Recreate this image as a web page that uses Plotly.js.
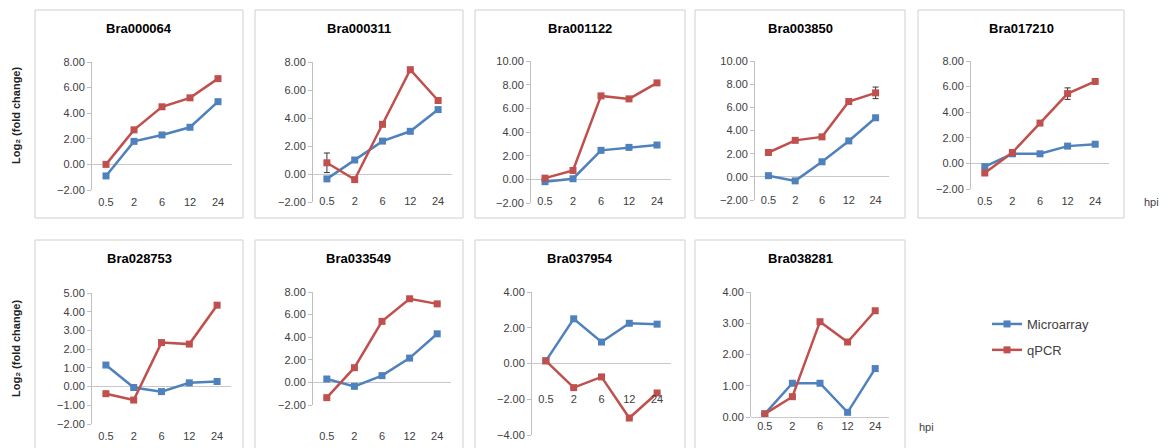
<!DOCTYPE html>
<html><head><meta charset="utf-8">
<script src="https://cdn.plot.ly/plotly-3.0.1.min.js"></script>
<style>html,body{margin:0;padding:0;background:#fff;}#chart{width:1173px;height:448px;}</style>
</head><body><div id="chart"></div>
<script>
// ---- data ----
const categories = ['0.5', '2', '6', '12', '24'];
const genes = ['Bra000064','Bra000311','Bra001122','Bra003850','Bra017210','Bra028753','Bra033549','Bra037954','Bra038281'];
const seriesNames = ['Microarray', 'qPCR'];

const micBra000064 = [-0.9, 1.8, 2.3, 2.9, 4.9];
const qpcBra000064 = [0.0, 2.7, 4.5, 5.2, 6.7];
const micBra000311 = [-0.35, 1.0, 2.35, 3.05, 4.6];
const qpcBra000311 = [0.8, -0.4, 3.55, 7.45, 5.25];
const micBra001122 = [-0.2, 0.05, 2.45, 2.7, 2.9];
const qpcBra001122 = [0.1, 0.75, 7.05, 6.8, 8.15];
const micBra003850 = [0.1, -0.35, 1.3, 3.1, 5.1];
const qpcBra003850 = [2.1, 3.15, 3.45, 6.5, 7.25];
const micBra017210 = [-0.25, 0.75, 0.75, 1.35, 1.5];
const qpcBra017210 = [-0.75, 0.85, 3.15, 5.45, 6.4];
const micBra028753 = [1.15, -0.05, -0.27, 0.2, 0.27];
const qpcBra028753 = [-0.38, -0.72, 2.35, 2.27, 4.35];
const micBra033549 = [0.3, -0.35, 0.6, 2.15, 4.3];
const qpcBra033549 = [-1.35, 1.3, 5.4, 7.4, 6.95];
const micBra037954 = [0.15, 2.5, 1.2, 2.25, 2.2];
const qpcBra037954 = [0.15, -1.35, -0.75, -3.05, -1.65];
const micBra038281 = [0.1, 1.08, 1.08, 0.15, 1.55];
const qpcBra038281 = [0.1, 0.65, 3.05, 2.4, 3.4];

const errBra000311 = [0.7, 0, 0, 0, 0];
const errBra003850 = [0, 0, 0, 0, 0.5];
const errBra017210 = [0, 0, 0, 0.45, 0];
const errNone = [0, 0, 0, 0, 0];

const yRanges = [[-2,8],[-2,8],[-2,10],[-2,10],[-2,8],[-2,5],[-2,8],[-4,4],[0,4]];
const yDticks = [2,2,2,2,2,1,2,2,1];

// ---- layout geometry (pixels) ----
const W = 1173, H = 448;
const mics = [micBra000064,micBra000311,micBra001122,micBra003850,micBra017210,micBra028753,micBra033549,micBra037954,micBra038281];
const qpcs = [qpcBra000064,qpcBra000311,qpcBra001122,qpcBra003850,qpcBra017210,qpcBra028753,qpcBra033549,qpcBra037954,qpcBra038281];
const errs = [errNone,errBra000311,errNone,errBra003850,errBra017210,errNone,errNone,errNone,errNone];

// box [x0,y0,x1,y1], plot [xl,xr,yTop,yBottom], label y (center)
const geo = [
  {box:[35,10,243,218],  plot:[92,232,62,190],   lab:203},
  {box:[255,10,463,218], plot:[313,452,62,202],  lab:202},
  {box:[475,10,685,218], plot:[531,671,61,203],  lab:202},
  {box:[695,10,905,218], plot:[755,889,61,200],  lab:201},
  {box:[918,10,1124,218],plot:[971,1109,61,189], lab:202},
  {box:[35,240,243,470], plot:[92,231,293,424],  lab:437},
  {box:[255,240,463,470],plot:[313,451,292,405], lab:437},
  {box:[475,240,685,470],plot:[532,671,292,435], lab:400},
  {box:[695,240,905,470],plot:[751,889,292,417], lab:427}
];

const blue = '#4F81BD', red = '#C0504D';
const tickFont = {family:'Arial, "Liberation Sans", sans-serif', size:11, color:'#404040'};

const traces = [];
const layout = {
  width: W, height: H,
  margin: {l:0, r:0, t:0, b:0},
  paper_bgcolor: '#fff', plot_bgcolor: 'rgba(0,0,0,0)',
  showlegend: true,
  legend: {x: 987/W, y: 1 - 309/H, xanchor:'left', yanchor:'top',
           font:{family:'Arial, "Liberation Sans", sans-serif', size:13, color:'#404040'},
           traceorder:'grouped', tracegroupgap: 6, bgcolor:'rgba(0,0,0,0)'},
  shapes: [], annotations: []
};

genes.forEach((g, i) => {
  const n = i + 1;
  const xa = 'xaxis' + (n === 1 ? '' : n), ya = 'yaxis' + (n === 1 ? '' : n);
  const xr = 'x' + (n === 1 ? '' : n), yr = 'y' + (n === 1 ? '' : n);
  const G = geo[i];
  const [xl, xrgt, yt, yb] = G.plot;
  layout[xa] = {
    domain: [xl / W, xrgt / W], type: 'category', range: [-0.5, 4.5],
    anchor: 'free', position: 1 - (G.lab - 9) / H,
    showline: false, showgrid: false, zeroline: false, ticks: '',
    tickfont: tickFont, fixedrange: true
  };
  layout[ya] = {
    domain: [1 - yb / H, 1 - yt / H], anchor: xr, range: yRanges[i], dtick: yDticks[i],
    tickformat: '.2f', showline: true, linecolor: '#bfbfbf', linewidth: 1,
    ticks: 'outside', ticklen: 4, tickcolor: '#bfbfbf', showgrid: false,
    zeroline: true, zerolinecolor: '#c8c8c8', zerolinewidth: 1,
    tickfont: tickFont, fixedrange: true
  };
  traces.push({
    x: categories, y: mics[i], xaxis: xr, yaxis: yr, type: 'scatter', mode: 'lines+markers',
    name: seriesNames[0], legendgroup: 'a', showlegend: i === 0,
    line: {color: blue, width: 2.5}, marker: {symbol: 'square', size: 7, color: blue}
  });
  traces.push({
    x: categories, y: qpcs[i], xaxis: xr, yaxis: yr, type: 'scatter', mode: 'lines+markers',
    name: seriesNames[1], legendgroup: 'b', showlegend: i === 0,
    line: {color: red, width: 2.5}, marker: {symbol: 'square', size: 7, color: red},
    error_y: {type: 'data', array: errs[i], visible: true, color: '#333', thickness: 1, width: 3}
  });
  const [bx0, by0, bx1, by1] = G.box;
  layout.shapes.push({type: 'rect', xref: 'paper', yref: 'paper',
    x0: bx0 / W, x1: bx1 / W, y0: 1 - by1 / H, y1: 1 - by0 / H,
    line: {color: '#d0d0d0', width: 1}, fillcolor: 'rgba(0,0,0,0)', layer: 'below'});
  layout.annotations.push({text: '<b>' + g + '</b>', xref: 'paper', yref: 'paper',
    x: (bx0 + bx1) / 2 / W, y: 1 - (by0 + 18) / H, xanchor: 'center', yanchor: 'middle',
    showarrow: false, font: {family: 'Arial, "Liberation Sans", sans-serif', size: 13, color: '#000'}});
});

// y-axis titles and hpi labels
[116, 349].forEach(cy => layout.annotations.push({
  text: '<b>Log₂ (fold change)</b>', textangle: -90, xref: 'paper', yref: 'paper',
  x: 16 / W, y: 1 - cy / H, xanchor: 'center', yanchor: 'middle', showarrow: false,
  font: {family: 'Arial, "Liberation Sans", sans-serif', size: 11, color: '#222'}}));
[[1151, 202], [926, 427]].forEach(p => layout.annotations.push({
  text: 'hpi', xref: 'paper', yref: 'paper', x: p[0] / W, y: 1 - p[1] / H,
  xanchor: 'center', yanchor: 'middle', showarrow: false, font: tickFont}));

Plotly.newPlot('chart', traces, layout, {staticPlot: true, displayModeBar: false});
</script>
</body></html>
